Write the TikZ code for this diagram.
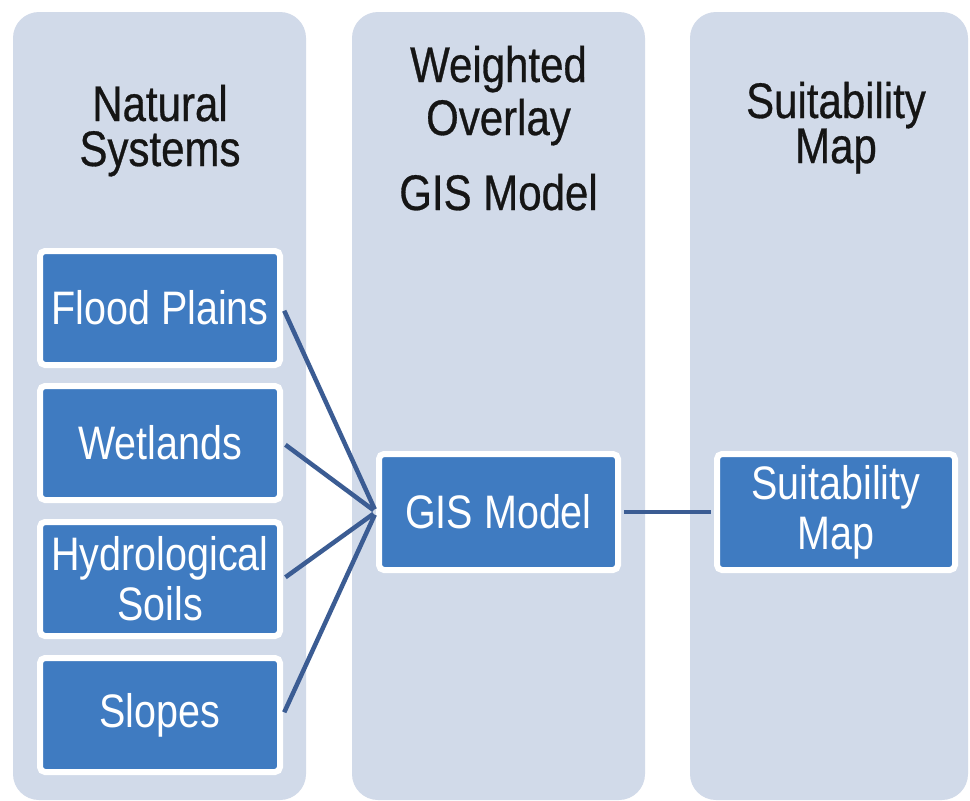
\documentclass[tikz,border=0pt]{standalone}
\usepackage{fontspec}
\setmainfont{Liberation Sans}[FakeStretch=0.84]
\newfontfamily\headfont{Liberation Sans}[FakeStretch=0.84,FakeBold=0.6]
\usetikzlibrary{positioning}
\definecolor{colbg}{HTML}{D1DAE9}
\definecolor{boxblue}{HTML}{3F7BC1}
\definecolor{linkblue}{HTML}{3B5C93}
\definecolor{headtxt}{HTML}{151515}
\tikzset{
  column/.style={fill=colbg, draw=none, rounded corners=26pt, inner sep=0pt},
  itembox/.style={fill=boxblue, draw=white, line width=6pt, rounded corners=5pt,
    minimum width=240pt, minimum height=114pt, inner sep=0pt, text=white,
    align=center, font=\fontsize{47}{50}\selectfont},
  header/.style={text=headtxt, align=center, inner sep=0pt,
    font=\headfont\fontsize{50}{45}\selectfont},
  link/.style={draw=linkblue, line width=4.5pt, shorten <=3pt, shorten >=3pt}
}
\begin{document}
\begin{tikzpicture}[x=1pt,y=-1pt]
\useasboundingbox (0,0) rectangle (970,801);
\fill[white] (0,0) rectangle (970,801);
% columns
\node[column, minimum width=293pt, minimum height=788pt] (col1) at (159.5,406) {};
\node[column, minimum width=293pt, minimum height=788pt] (col2) at (498.5,406) {};
\node[column, minimum width=278pt, minimum height=788pt] (col3) at (829,406) {};
% headers (base anchor = baseline of last line)
\node[header, anchor=base] (h1) at (160,166) {Natural\\Systems};
\node[header, anchor=base, font=\headfont\fontsize{50}{53}\selectfont] (h2) at (498.5,135) {Weighted\\Overlay};
\node[header, anchor=base] (h2b) at (498.5,210) {GIS Model};
\node[header, anchor=base] (h3) at (836,163) {Suitability\\Map};
% item boxes
\node[itembox] (fp) at (160,308) {Flood Plains};
\node[itembox] (wl) at (160,443) {Wetlands};
\node[itembox, font=\fontsize{47}{50}\selectfont] (hs) at (160,579) {Hydrological\\Soils};
\node[itembox] (sl) at (160,715) {Slopes};
\node[itembox, minimum width=239pt, minimum height=116pt] (gis) at (498.5,512) {GIS Model};
\node[itembox, minimum width=238pt, minimum height=116pt, font=\fontsize{47}{50}\selectfont] (suit) at (836,512) {Suitability\\Map};
% connectors
\draw[link] (fp.east) -- (gis.west);
\draw[link] (wl.east) -- (gis.west);
\draw[link] (hs.east) -- (gis.west);
\draw[link] (sl.east) -- (gis.west);
\draw[link] (gis.east) -- (suit.west);
\end{tikzpicture}
\end{document}
